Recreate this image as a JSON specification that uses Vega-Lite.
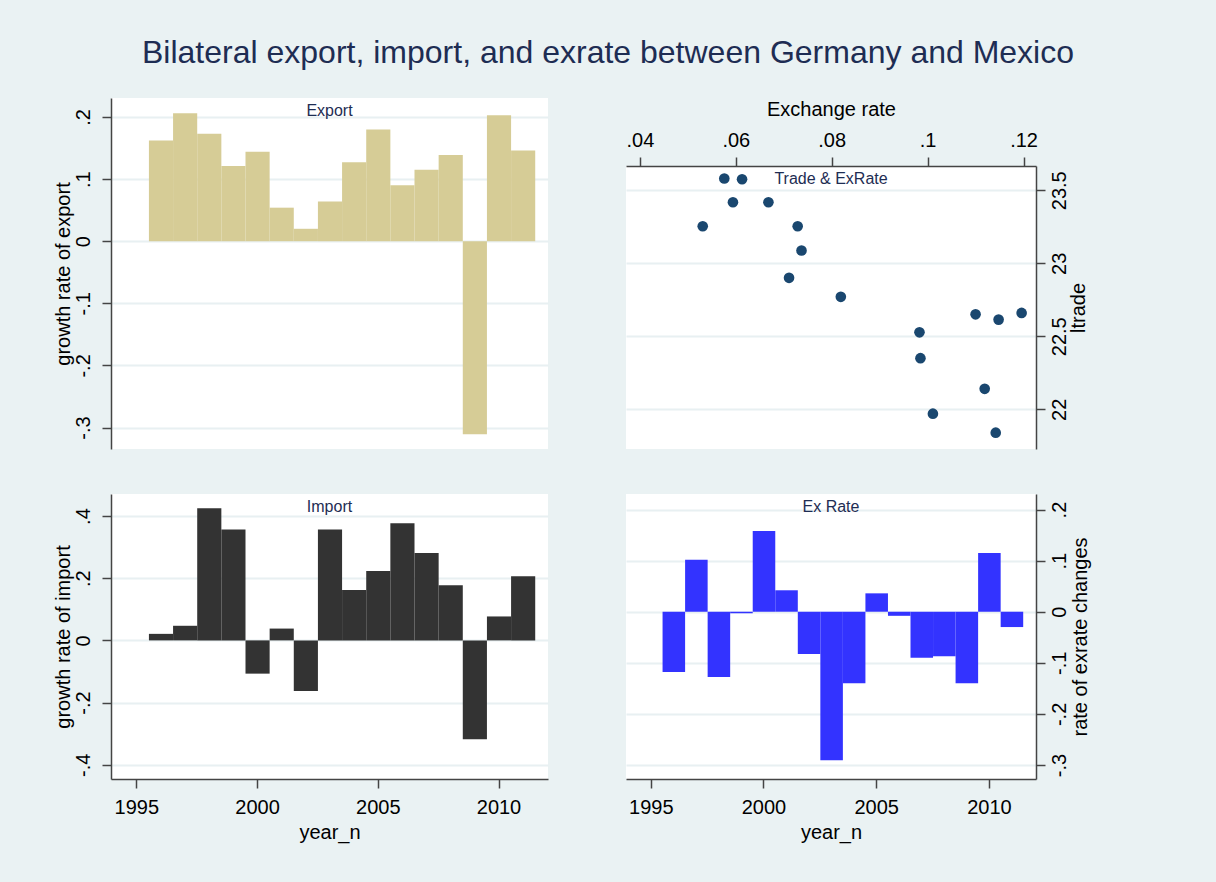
{
  "$schema": "https://vega.github.io/schema/vega-lite/v6.json",
  "background": "#EAF2F3",
  "padding": {"left": 53, "top": 37, "right": 127, "bottom": -27},
  "title": {"text": "Bilateral export, import, and exrate between Germany and Mexico", "fontSize": 32, "color": "#1E2D53", "font": "Liberation Sans", "fontWeight": "normal", "offset": 28, "dx": 89},
  "config": {
    "view": {"stroke": null, "fill": "white"},
    "axis": {"labelFont": "Liberation Sans", "titleFont": "Liberation Sans", "labelFontSize": 20, "titleFontSize": 20, "labelColor": "#000000", "titleColor": "#000000", "titleFontWeight": "normal", "domainColor": "#444444", "domainWidth": 1.5, "tickColor": "#444444", "tickWidth": 1.5, "tickSize": 9, "gridColor": "#E8F0F2", "gridWidth": 2, "labelPadding": 5, "labelFlush": false, "labelOverlap": false},
    "title": {"font": "Liberation Sans", "fontWeight": "normal"}
  },
  "datasets": {
    "ts": [
      {"year": 1996, "export": 0.162, "import": 0.021, "exrch": -0.118},
      {"year": 1997, "export": 0.206, "import": 0.047, "exrch": 0.102},
      {"year": 1998, "export": 0.173, "import": 0.425, "exrch": -0.128},
      {"year": 1999, "export": 0.121, "import": 0.357, "exrch": -0.003},
      {"year": 2000, "export": 0.144, "import": -0.107, "exrch": 0.158},
      {"year": 2001, "export": 0.054, "import": 0.038, "exrch": 0.042},
      {"year": 2002, "export": 0.020, "import": -0.163, "exrch": -0.083},
      {"year": 2003, "export": 0.064, "import": 0.357, "exrch": -0.291},
      {"year": 2004, "export": 0.127, "import": 0.162, "exrch": -0.140},
      {"year": 2005, "export": 0.180, "import": 0.223, "exrch": 0.036},
      {"year": 2006, "export": 0.090, "import": 0.377, "exrch": -0.008},
      {"year": 2007, "export": 0.115, "import": 0.281, "exrch": -0.090},
      {"year": 2008, "export": 0.139, "import": 0.177, "exrch": -0.087},
      {"year": 2009, "export": -0.311, "import": -0.318, "exrch": -0.140},
      {"year": 2010, "export": 0.203, "import": 0.077, "exrch": 0.115},
      {"year": 2011, "export": 0.146, "import": 0.206, "exrch": -0.030}
    ],
    "sc": [
      {"exrate": 0.0576, "ltrade": 23.580},
      {"exrate": 0.0613, "ltrade": 23.575},
      {"exrate": 0.0594, "ltrade": 23.418},
      {"exrate": 0.0668, "ltrade": 23.418},
      {"exrate": 0.0531, "ltrade": 23.253},
      {"exrate": 0.0729, "ltrade": 23.253},
      {"exrate": 0.0737, "ltrade": 23.087},
      {"exrate": 0.0711, "ltrade": 22.900},
      {"exrate": 0.0819, "ltrade": 22.770},
      {"exrate": 0.1100, "ltrade": 22.650},
      {"exrate": 0.1148, "ltrade": 22.614},
      {"exrate": 0.1196, "ltrade": 22.660},
      {"exrate": 0.0983, "ltrade": 22.527},
      {"exrate": 0.0985, "ltrade": 22.350},
      {"exrate": 0.1119, "ltrade": 22.140},
      {"exrate": 0.1011, "ltrade": 21.970},
      {"exrate": 0.1142, "ltrade": 21.840}
    ]
  },
  "spacing": 78,
  "center": true,
  "hconcat": [
    {
      "spacing": 45,
      "vconcat": [
        {
          "width": 437, "height": 351,
          "data": {"name": "ts"},
          "title": {"text": "Export", "orient": "top", "anchor": "middle", "offset": -21, "fontSize": 16, "color": "#1E2D53"},
          "mark": {"type": "bar", "color": "#D6CC96", "binSpacing": 0},
          "encoding": {
            "x": {"field": "year", "type": "quantitative", "bin": {"step": 1, "extent": [1995.5, 2011.5], "nice": false}, "scale": {"domain": [1993.95, 2012.05], "nice": false, "zero": false}, "axis": null},
            "y": {"field": "export", "type": "quantitative", "scale": {"domain": [-0.3346, 0.2306], "nice": false, "zero": false},
                  "axis": {"orient": "left", "title": "growth rate of export", "values": [-0.3, -0.2, -0.1, 0, 0.1, 0.2], "grid": true, "labelAngle": -90, "labelAlign": "center", "labelBaseline": "bottom", "labelPadding": 9, "titlePadding": 0,
                           "labelExpr": "datum.value == 0 ? '0' : (datum.value < 0 ? '-' : '') + substring(format(abs(datum.value), '~g'), 1)"}}
          }
        },
        {
          "width": 437, "height": 285,
          "data": {"name": "ts"},
          "title": {"text": "Import", "orient": "top", "anchor": "middle", "offset": -21, "fontSize": 16, "color": "#1E2D53"},
          "mark": {"type": "bar", "color": "#333333", "binSpacing": 0},
          "encoding": {
            "x": {"field": "year", "type": "quantitative", "bin": {"step": 1, "extent": [1995.5, 2011.5], "nice": false}, "scale": {"domain": [1993.95, 2012.05], "nice": false, "zero": false},
                  "axis": {"orient": "bottom", "title": ["year_n", ""], "titleLineHeight": 68, "values": [1995, 2000, 2005, 2010], "format": "d", "grid": false, "labelPadding": 9, "titlePadding": 5}},
            "y": {"field": "import", "type": "quantitative", "scale": {"domain": [-0.446, 0.471], "nice": false, "zero": false},
                  "axis": {"orient": "left", "title": "growth rate of import", "values": [-0.4, -0.2, 0, 0.2, 0.4], "grid": true, "labelAngle": -90, "labelAlign": "center", "labelBaseline": "bottom", "labelPadding": 9, "titlePadding": 0,
                           "labelExpr": "datum.value == 0 ? '0' : (datum.value < 0 ? '-' : '') + substring(format(abs(datum.value), '~g'), 1)"}}
          }
        }
      ]
    },
    {
      "spacing": 45,
      "vconcat": [
        {
          "width": 410, "height": 283,
          "data": {"name": "sc"},
          "title": {"text": "Trade & ExRate", "orient": "top", "anchor": "middle", "offset": -88, "fontSize": 16, "color": "#1E2D53"},
          "mark": {"type": "circle", "size": 113, "color": "#1A476F", "opacity": 1},
          "encoding": {
            "x": {"field": "exrate", "type": "quantitative", "scale": {"domain": [0.0371, 0.1226], "nice": false, "zero": false},
                  "axis": {"orient": "top", "title": "Exchange rate", "values": [0.04, 0.06, 0.08, 0.1, 0.12], "grid": false, "labelPadding": 7, "titlePadding": 11,
                           "labelExpr": "substring(format(datum.value, '~g'), 1)"}},
            "y": {"field": "ltrade", "type": "quantitative", "scale": {"domain": [21.728, 23.666], "nice": false, "zero": false},
                  "axis": {"orient": "right", "title": "ltrade", "values": [22, 22.5, 23, 23.5], "format": "~g", "grid": true, "labelAngle": -90, "labelAlign": "center", "labelBaseline": "top", "labelPadding": 4, "titleAngle": -90, "titleBaseline": "top", "titlePadding": -1}}
          }
        },
        {
          "width": 410, "height": 285,
          "data": {"name": "ts"},
          "title": {"text": "Ex Rate", "orient": "top", "anchor": "middle", "offset": -21, "fontSize": 16, "color": "#1E2D53"},
          "mark": {"type": "bar", "color": "#3333FF", "binSpacing": 0},
          "encoding": {
            "x": {"field": "year", "type": "quantitative", "bin": {"step": 1, "extent": [1995.5, 2011.5], "nice": false}, "scale": {"domain": [1993.9, 2012.09], "nice": false, "zero": false},
                  "axis": {"orient": "bottom", "title": "year_n", "values": [1995, 2000, 2005, 2010], "format": "d", "grid": false, "labelPadding": 9, "titlePadding": 5}},
            "y": {"field": "exrch", "type": "quantitative", "scale": {"domain": [-0.3275, 0.2305], "nice": false, "zero": false},
                  "axis": {"orient": "right", "title": "rate of exrate changes", "values": [-0.3, -0.2, -0.1, 0, 0.1, 0.2], "grid": true, "labelAngle": -90, "labelAlign": "center", "labelBaseline": "top", "labelPadding": 4, "titleAngle": -90, "titleBaseline": "top", "titlePadding": 1,
                           "labelExpr": "datum.value == 0 ? '0' : (datum.value < 0 ? '-' : '') + substring(format(abs(datum.value), '~g'), 1)"}}
          }
        }
      ]
    }
  ]
}
